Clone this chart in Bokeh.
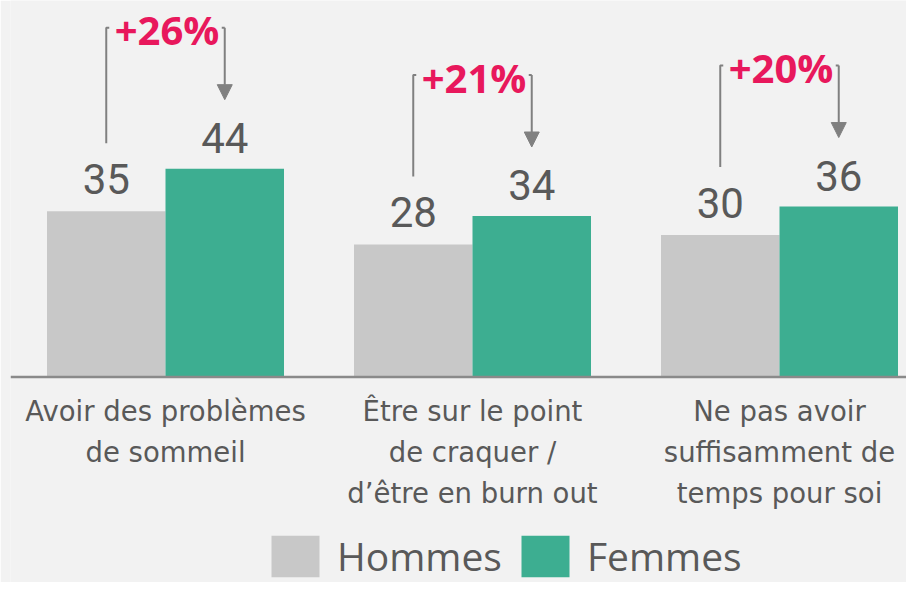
from bokeh.plotting import figure
from bokeh.models import (Range1d, Span, ColumnDataSource, Legend, LegendItem,
                          Arrow, NormalHead)
from bokeh.core.properties import value
from bokeh.embed import file_html
from bokeh.resources import INLINE

# ---------------- data ----------------
categories = [
    "Avoir des problèmes\nde sommeil",
    "Être sur le point\nde craquer /\nd’être en burn out",
    "Ne pas avoir\nsuffisamment de\ntemps pour soi",
]
series = ["Hommes", "Femmes"]
hommes = [35, 28, 30]
femmes = [44, 34, 36]
ecarts = ["+26%", "+21%", "+20%"]

# ---------------- layout / style ----------------
W, H = 906, 582
LEFT = 10             # blank border left of the frame
FW = W - LEFT         # frame width
GROUP_PX = 307.0      # px between group centres
X0_PX = 165.0 - LEFT  # first group centre from frame left
ZERO_PX = 376.5       # baseline from frame top
PX = 4.735            # px per unit on y
BW = 118.5 / GROUP_PX # bar width in data units
DX = 1.0 / GROUP_PX   # one pixel in x data units

BG = "#f2f2f2"
GREY = "#c8c8c8"
GREEN = "#3dae91"
TXT = "#595959"
PINK = "#e8185c"
LINE = "#808080"

p = figure(width=W, height=H, output_backend="svg", toolbar_location=None,
           x_range=Range1d(-X0_PX / GROUP_PX, (FW - X0_PX) / GROUP_PX),
           y_range=Range1d(-(H - ZERO_PX) / PX, ZERO_PX / PX),
           x_axis_location=None, y_axis_location=None,
           min_border=0, min_border_left=LEFT,
           background_fill_color=BG, border_fill_color=BG,
           outline_line_color=None)
p.xgrid.visible = False
p.ygrid.visible = False

idx = list(range(len(categories)))
hx = [i - BW / 2 for i in idx]
fx = [i + BW / 2 for i in idx]

r_h = p.vbar(x=hx, top=hommes, bottom=0, width=BW, fill_color=GREY, line_color=None)
r_f = p.vbar(x=fx, top=femmes, bottom=0, width=BW, fill_color=GREEN, line_color=None)

p.add_layout(Span(location=0, dimension="width", line_color="#8a8a8a", line_width=2.5))

# value labels
num_font = value("Roboto")
p.text(x=hx, y=hommes, text=[str(v) for v in hommes], text_align="center",
       text_baseline="alphabetic", y_offset=-32, text_font=num_font,
       text_font_size="42px", text_color=TXT)
p.text(x=fx, y=femmes, text=[str(v) for v in femmes], text_align="center",
       text_baseline="alphabetic", y_offset=-31, text_font=num_font,
       text_font_size="42px", text_color=TXT)

# category labels (one glyph row per text line)
cx, ct, cy = [], [], []
for i, c in enumerate(categories):
    for k, line in enumerate(c.split("\n")):
        cx.append(i)
        ct.append(line)
        cy.append(34 + 41 * k)
p.text(x="x", y=0, text="t", y_offset="yo",
       source=ColumnDataSource(dict(x=cx, t=ct, yo=cy)),
       text_align="center", text_baseline="alphabetic",
       text_font=value("DejaVu Sans"), text_font_size="27.5px", text_color=TXT)

# brackets + arrows
top_y = [f + 141 / PX for f in femmes]
lxs = [[x, x, x + 3 * DX] for x in hx]
lys = [[h + 68 / PX, t, t] for h, t in zip(hommes, top_y)]
rxs = [[x - 3 * DX, x] for x in fx]
rys = [[t, t] for t in top_y]
p.multi_line(xs=lxs + rxs, ys=lys + rys, line_color=LINE, line_width=2)

arrow_src = ColumnDataSource(dict(x0=fx, y0=top_y, x1=fx,
                                  y1=[f + 69 / PX for f in femmes]))
p.add_layout(Arrow(source=arrow_src, x_start="x0", y_start="y0", x_end="x1", y_end="y1",
                   line_color=LINE, line_width=2,
                   end=NormalHead(size=15, fill_color=LINE, line_color=LINE, line_width=1)))

# percentage labels
p.text(x=[i + 1.5 * DX for i in idx], y=[f + 139 / PX for f in femmes], text=ecarts,
       text_align="center", text_baseline="alphabetic",
       text_font=value("Open Sans"), text_font_style="bold",
       text_font_size="40px", text_color=PINK)

# legend
legend = Legend(items=[LegendItem(label=series[0], renderers=[r_h]),
                       LegendItem(label=series[1], renderers=[r_f])],
                orientation="horizontal", location=(265 - LEFT, 0),
                glyph_width=60, glyph_height=52, label_standoff=12, spacing=13,
                padding=0, margin=0, border_line_color=None,
                background_fill_alpha=0,
                label_text_font="Open Sans", label_text_font_size="39px",
                label_text_color=TXT)
p.add_layout(legend)

open("out.html", "w").write(file_html(p, INLINE))
